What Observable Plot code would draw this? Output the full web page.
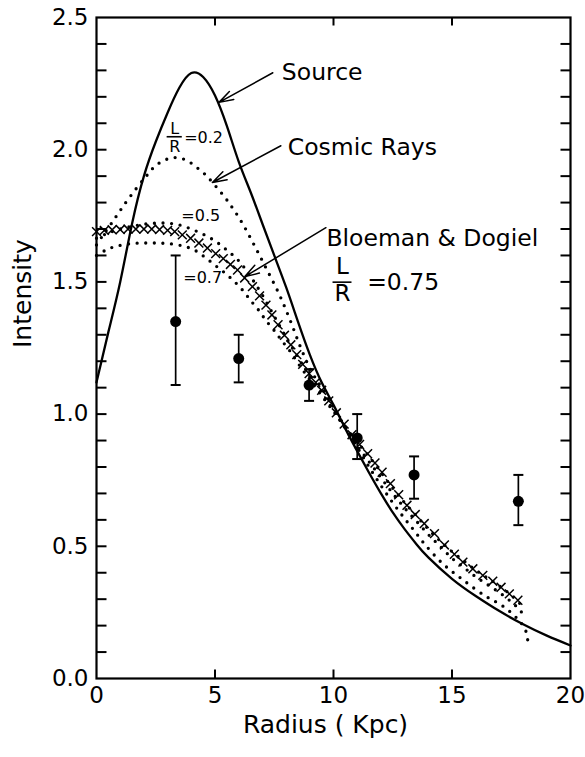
<!DOCTYPE html>
<html>
<head>
<meta charset="utf-8">
<script src="https://cdn.jsdelivr.net/npm/d3@7"></script>
<script src="https://cdn.jsdelivr.net/npm/@observablehq/plot@0.6"></script>
<style>
  html, body { margin: 0; padding: 0; background: #fff; }
  #chart { width: 585px; height: 757px; }
</style>
</head>
<body>
<div id="chart"></div>
<script>
// ---- Data ----
const xTickLabels = [0, 5, 10, 15, 20];
const yTickLabels = [0, 0.5, 1.0, 1.5, 2.0, 2.5];
const yMinorTicks = [0.1,0.2,0.3,0.4,0.5,0.6,0.7,0.8,0.9,1.0,1.1,1.2,1.3,1.4,1.5,1.6,1.7,1.8,1.9,2.0,2.1,2.2,2.3,2.4];
const xMinorTicks = [5, 10, 15];

// Source curve
const sourceR = [0,0.5,1,1.5,2,2.5,3,3.5,4,4.5,5,5.5,6,6.5,7,7.5,8,8.5,9,9.5,10,10.5,11,11.5,12,12.5,13,13.5,14,15,16,17,18,19,20];
const sourceI = [1.12,1.31,1.50,1.72,1.90,2.03,2.14,2.235,2.29,2.275,2.205,2.09,1.955,1.84,1.72,1.60,1.48,1.35,1.225,1.12,1.035,0.945,0.86,0.778,0.70,0.628,0.565,0.508,0.458,0.377,0.312,0.255,0.205,0.162,0.125];

// Cosmic rays, L/R = 0.2
const cr02R = [0,0.3,0.66,1.0,1.48,2.1,2.5,3.0,3.4,3.8,4.2,4.6,5.0,5.5,6.1,6.65,7.15,7.7,8.15,8.6,9.05,9.5,10,10.5,11,11.5,12,12.5,13,13.4,13.83,14.6,15.45,16.35,16.85,17.25,17.6,17.9,18.13,18.2];
const cr02I = [1.64,1.68,1.725,1.77,1.83,1.90,1.94,1.965,1.97,1.96,1.935,1.905,1.865,1.81,1.73,1.64,1.553,1.455,1.36,1.255,1.165,1.10,1.025,0.95,0.875,0.80,0.73,0.665,0.605,0.56,0.51,0.435,0.374,0.315,0.29,0.267,0.24,0.212,0.176,0.14];

// Cosmic rays, L/R = 0.5
const cr05R = [0,0.5,1,1.5,2,2.5,3,3.5,4,4.5,5,5.5,6,6.5,7,7.5,8,8.5,9,9.5,10,10.5,11,11.5,12,12.5,13,13.5,14,14.5,15,15.5,16,16.5,17,17.5,17.9,18.1];
const cr05I = [1.665,1.685,1.70,1.71,1.718,1.722,1.722,1.715,1.70,1.68,1.655,1.62,1.58,1.52,1.45,1.37,1.29,1.215,1.145,1.08,1.015,0.945,0.88,0.82,0.76,0.70,0.645,0.595,0.545,0.50,0.455,0.42,0.385,0.355,0.325,0.29,0.255,0.225];

// Cosmic rays, L/R = 0.7
const cr07R = [0,0.5,1,1.5,2,2.5,3,3.6,4.1,4.55,5.0,5.4,5.8,6.2,6.5,6.85,7.15,7.5,7.8,8.15,8.6,9.0,9.5,10,10.5,11,11.5,12,12.5,13,13.5,14,14.5,15,15.5,16,16.5,17,17.5,17.9];
const cr07I = [1.60,1.625,1.638,1.645,1.647,1.647,1.645,1.637,1.622,1.595,1.563,1.535,1.503,1.465,1.43,1.392,1.354,1.316,1.28,1.24,1.18,1.13,1.07,1.01,0.95,0.895,0.84,0.78,0.72,0.665,0.615,0.565,0.52,0.48,0.445,0.41,0.38,0.35,0.315,0.28];

// Bloeman & Dogiel (x markers)
const bdR = [0,0.33,0.66,1.0,1.33,1.66,2.0,2.33,2.66,3.0,3.3,3.62,3.97,4.32,4.68,5.03,5.35,5.65,5.95,6.25,6.58,6.88,7.15,7.4,7.66,7.93,8.2,8.45,8.7,8.97,9.25,9.5,9.8,10.12,10.45,10.78,11.1,11.44,11.75,12.05,12.4,12.75,13.1,13.45,13.83,14.26,14.68,15.1,15.46,15.88,16.3,16.72,17.07,17.42,17.78];
const bdI = [1.69,1.695,1.697,1.698,1.70,1.70,1.70,1.70,1.698,1.695,1.69,1.678,1.665,1.647,1.628,1.607,1.588,1.566,1.545,1.515,1.482,1.447,1.412,1.375,1.338,1.298,1.262,1.225,1.188,1.153,1.12,1.09,1.05,1.005,0.962,0.922,0.885,0.85,0.815,0.78,0.737,0.695,0.655,0.62,0.586,0.548,0.505,0.47,0.44,0.415,0.39,0.368,0.345,0.32,0.296];

// Observations with error bars
const obsR  = [3.34, 6.0, 8.97, 11.0, 13.4, 17.8];
const obsI  = [1.35, 1.21, 1.11, 0.91, 0.77, 0.67];
const obsLo = [1.11, 1.12, 1.05, 0.83, 0.68, 0.58];
const obsHi = [1.60, 1.30, 1.17, 1.00, 0.84, 0.77];

// Annotation labels and arrows
const labelText = ["Source", "Cosmic Rays", "Bloeman & Dogiel", "=0.75"];
const labelX    = [7.82, 8.07, 9.70, 11.42];
const labelY    = [2.291, 2.008, 1.666, 1.498];
const smallText = ["=0.2", "=0.5", "=0.7"];
const smallX    = [3.70, 3.58, 3.66];
const smallY    = [2.045, 1.751, 1.516];
const arrowX1 = [7.44, 7.78, 9.68];
const arrowY1 = [2.291, 2.015, 1.705];
const arrowX2 = [5.17, 4.89, 6.26];
const arrowY2 = [2.179, 1.876, 1.52];
// fractions "L over R": centre x, numerator y, bar y, denominator y, bar half-width (kpc), font size
const fracX   = [10.38, 3.30];
const fracNumY = [1.556, 2.079];
const fracBarY = [1.499, 2.049];
const fracDenY = [1.456, 2.009];
const fracHalf = [0.40, 0.32];
const fracSize = [23, 16];

// ---- Build tables ----
const zipXY = (xs, ys) => xs.map((x, i) => ({x, y: ys[i]}));
const source = zipXY(sourceR, sourceI);
const cr02 = zipXY(cr02R, cr02I);
const cr05 = zipXY(cr05R, cr05I);
const cr07 = zipXY(cr07R, cr07I);
const bd = zipXY(bdR, bdI);
const obs = obsR.map((x, i) => ({x, y: obsI[i], lo: obsLo[i], hi: obsHi[i]}));
const labels = labelText.map((t, i) => ({t, x: labelX[i], y: labelY[i]}));
const smalls = smallText.map((t, i) => ({t, x: smallX[i], y: smallY[i]}));
const arrows = arrowX1.map((x1, i) => ({x1, y1: arrowY1[i], x2: arrowX2[i], y2: arrowY2[i]}));
const fracs = fracX.map((x, i) => ({x, ny: fracNumY[i], by: fracBarY[i], dy: fracDenY[i], h: fracHalf[i], fs: fracSize[i]}));

// custom line symbols (for ticks and error-bar caps)
const hline = {draw(ctx, size) { const r = Math.sqrt(size / Math.PI); ctx.moveTo(-r, 0); ctx.lineTo(r, 0); }};
const vline = {draw(ctx, size) { const r = Math.sqrt(size / Math.PI); ctx.moveTo(0, -r); ctx.lineTo(0, r); }};

const dotted = {x: "x", y: "y", curve: "catmull-rom", stroke: "black", strokeWidth: 3.3, strokeLinecap: "round", strokeDasharray: "0 8.6"};

const chart = Plot.plot({
  width: 585,
  height: 757,
  marginLeft: 96,
  marginRight: 15,
  marginTop: 17,
  marginBottom: 79,
  x: {domain: [0, 20]},
  y: {domain: [0, 2.5]},
  style: {fontFamily: "DejaVu Sans, sans-serif", fontSize: "23px", color: "black", background: "white"},
  marks: [
    Plot.frame({stroke: "black", strokeWidth: 2.2}),
    // inward ticks
    Plot.dot(yMinorTicks, {x: 0, y: d => d, symbol: hline, r: 5, dx: 5, stroke: "black", fill: "none", strokeWidth: 2}),
    Plot.dot(yMinorTicks, {x: 20, y: d => d, symbol: hline, r: 5, dx: -5, stroke: "black", fill: "none", strokeWidth: 2}),
    Plot.dot(xMinorTicks, {x: d => d, y: 0, symbol: vline, r: 4.5, dy: -4.5, stroke: "black", fill: "none", strokeWidth: 2}),
    Plot.dot(xMinorTicks, {x: d => d, y: 2.5, symbol: vline, r: 4, dy: 4, stroke: "black", fill: "none", strokeWidth: 2}),
    Plot.axisY({ticks: yTickLabels, tickSize: 0, tickPadding: 8, tickFormat: d3.format(".1f"), label: null, fontSize: 23}),
    Plot.axisX({ticks: xTickLabels, tickSize: 0, tickPadding: 8, tickFormat: d => String(d), label: null, fontSize: 23}),
    Plot.text(["Intensity"], {frameAnchor: "left", dx: -74, rotate: -90, fontSize: 25}),
    Plot.text(["Radius ( Kpc)"], {frameAnchor: "bottom", dx: -8, dy: 54, fontSize: 25}),
    // curves
    Plot.line(source, {x: "x", y: "y", curve: "natural", stroke: "black", strokeWidth: 2.3}),
    Plot.line(cr02, dotted),
    Plot.line(cr05, dotted),
    Plot.line(cr07, dotted),
    Plot.dot(bd, {x: "x", y: "y", symbol: "times", r: 4.1, stroke: "black", strokeWidth: 1.5}),
    // observations
    Plot.ruleX(obs, {x: "x", y1: "lo", y2: "hi", stroke: "black", strokeWidth: 1.7}),
    Plot.dot(obs, {x: "x", y: "lo", symbol: hline, r: 5, stroke: "black", fill: "none", strokeWidth: 2}),
    Plot.dot(obs, {x: "x", y: "hi", symbol: hline, r: 5, stroke: "black", fill: "none", strokeWidth: 2}),
    Plot.dot(obs, {x: "x", y: "y", r: 5.5, fill: "black"}),
    // annotations
    Plot.arrow(arrows, {x1: "x1", y1: "y1", x2: "x2", y2: "y2", stroke: "black", strokeWidth: 1.5, headLength: 15, headAngle: 35}),
    Plot.text(labels, {x: "x", y: "y", text: "t", textAnchor: "start", fontSize: 23.5}),
    Plot.text(smalls, {x: "x", y: "y", text: "t", textAnchor: "start", fontSize: 16}),
    Plot.text(fracs, {x: "x", y: "ny", text: () => "L", fontSize: d => d.fs}),
    Plot.text(fracs, {x: "x", y: "dy", text: () => "R", fontSize: d => d.fs}),
    Plot.ruleY(fracs, {y: "by", x1: d => d.x - d.h, x2: d => d.x + d.h, stroke: "black", strokeWidth: 1.6})
  ]
});
document.getElementById("chart").appendChild(chart);
</script>
</body>
</html>
